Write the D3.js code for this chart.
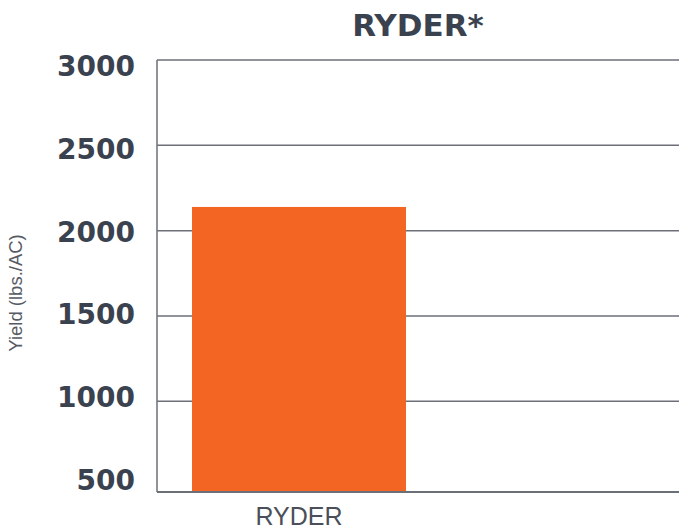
<!DOCTYPE html>
<html>
<head>
<meta charset="utf-8">
<script src="https://cdn.jsdelivr.net/npm/d3@7"></script>
<style>
  body { margin: 0; background: #fff; }
  svg { display: block; }
</style>
</head>
<body>
<svg id="chart" width="679" height="531"></svg>
<script>
// data
const categories = ["RYDER"];
const yields = [2139];
const tickValues = [500, 1000, 1500, 2000, 2500, 3000];
const gridValues = [1000, 1500, 2000, 2500, 3000];
const title = "RYDER*";
const yTitle = "Yield (lbs./AC)";

const svg = d3.select("#chart");
const axisColor = "#6b6f78";
const textColor = "#3a4250";

const plot = { left: 157, right: 679, top: 60, bottom: 492 };

const y = d3.scaleLinear().domain([469, 3000]).range([plot.bottom, plot.top]);
// tick labels sit on their own even spacing in the source
const yLabel = d3.scaleLinear().domain([500, 3000]).range([480, 66]);
const x = d3.scaleBand().domain(categories).range([plot.left, 441]).padding(0.1406);

// grid lines
svg.append("g")
  .selectAll("line")
  .data(gridValues)
  .join("line")
  .attr("x1", plot.left)
  .attr("x2", plot.right)
  .attr("y1", d => y(d))
  .attr("y2", d => y(d))
  .attr("stroke", axisColor)
  .attr("stroke-width", 1.5);

// bars
svg.append("g")
  .selectAll("rect")
  .data(categories)
  .join("rect")
  .attr("x", d => x(d))
  .attr("width", x.bandwidth())
  .attr("y", (d, i) => y(yields[i]))
  .attr("height", (d, i) => y.range()[0] - y(yields[i]))
  .attr("fill", "#f26522");

// axis lines
svg.append("line")
  .attr("x1", plot.left).attr("x2", plot.left)
  .attr("y1", plot.top).attr("y2", plot.bottom)
  .attr("stroke", axisColor).attr("stroke-width", 1.5);
svg.append("line")
  .attr("x1", plot.left).attr("x2", plot.right)
  .attr("y1", plot.bottom).attr("y2", plot.bottom)
  .attr("stroke", axisColor).attr("stroke-width", 2);

// y tick labels
svg.append("g")
  .selectAll("text")
  .data(tickValues)
  .join("text")
  .attr("x", 135)
  .attr("y", d => yLabel(d))
  .attr("dy", "0.36em")
  .attr("text-anchor", "end")
  .attr("font-family", "DejaVu Sans, sans-serif")
  .attr("font-weight", "bold")
  .attr("font-size", 28)
  .attr("fill", textColor)
  .text(d => d);

// x labels
svg.append("g")
  .selectAll("text")
  .data(categories)
  .join("text")
  .attr("x", d => x(d) + x.bandwidth() / 2)
  .attr("y", 525)
  .attr("text-anchor", "middle")
  .attr("font-family", "Liberation Sans, Arial, sans-serif")
  .attr("font-size", 25)
  .attr("fill", "#4a4f5a")
  .text(d => d);

// title
svg.append("text")
  .attr("x", 418)
  .attr("y", 36)
  .attr("text-anchor", "middle")
  .attr("font-family", "DejaVu Sans, sans-serif")
  .attr("font-weight", "bold")
  .attr("font-size", 31)
  .attr("fill", textColor)
  .text(title);

// y axis title
svg.append("text")
  .attr("transform", "translate(22,293) rotate(-90)")
  .attr("text-anchor", "middle")
  .attr("font-family", "Liberation Sans, Arial, sans-serif")
  .attr("font-size", 18.5)
  .attr("fill", "#555a63")
  .text(yTitle);
</script>
</body>
</html>
